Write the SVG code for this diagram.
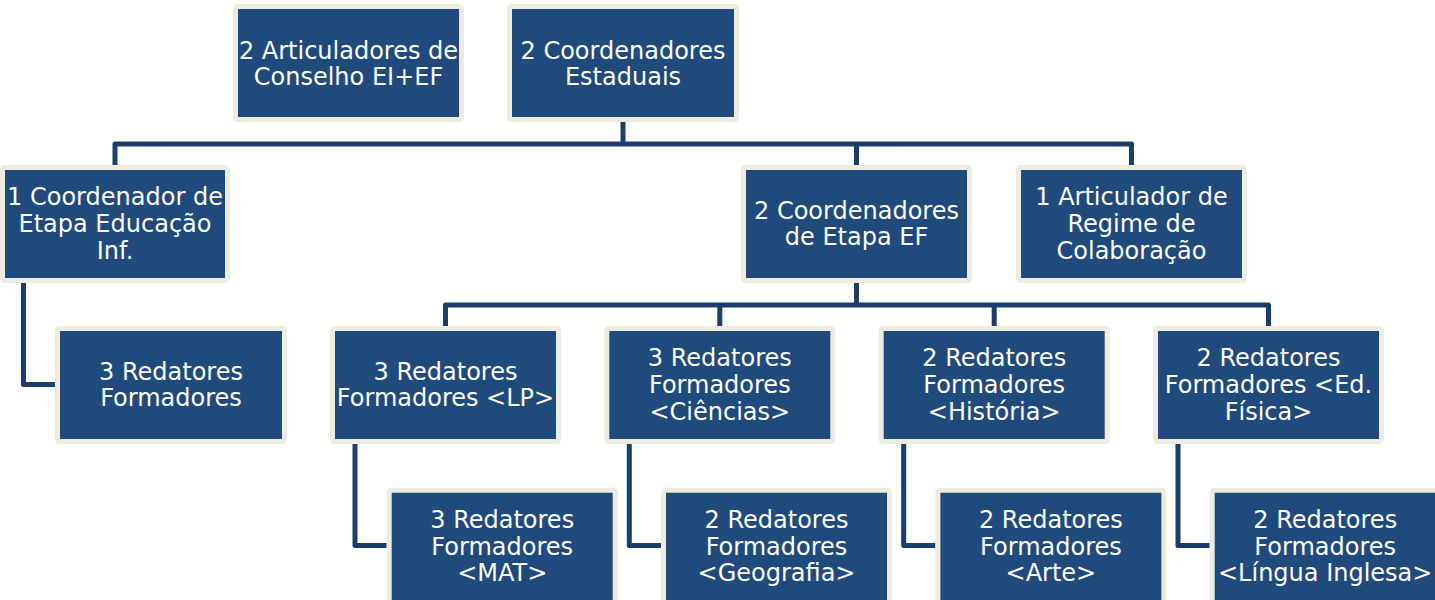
<svg xmlns="http://www.w3.org/2000/svg" width="1435" height="600" viewBox="0 0 1435 600">
<defs>
<style>
.box{fill:#214A7C;stroke:#EEECE1;stroke-width:5}
.t{font-family:"DejaVu Sans","Verdana",sans-serif;font-size:24px;fill:#FFFFFF;text-anchor:middle}
.c{fill:none;stroke:#1B3D6B;stroke-width:5;stroke-linejoin:round}
</style>
</defs>
<rect width="1435" height="600" fill="#FFFFFF"/>
<g id="connectors">
<path class="c" d="M623 122 V144"/>
<path class="c" d="M115 165 V144 H1131.5 V165"/>
<path class="c" d="M856.5 144 V165"/>
<path class="c" d="M23.5 283 V384.5 H55"/>
<path class="c" d="M856.5 283 V305"/>
<path class="c" d="M445.5 326 V305 H1268.5 V326"/>
<path class="c" d="M719.8 305 V326"/>
<path class="c" d="M994.2 305 V326"/>
<path class="c" d="M355 444 V545.5 H386.7"/>
<path class="c" d="M629.3 444 V545.5 H661"/>
<path class="c" d="M903.7 444 V545.5 H935.4"/>
<path class="c" d="M1178 444 V545.5 H1209.7"/>
</g>
<g id="articuladores">
<rect class="box" x="235.5" y="6.5" width="226" height="113" rx="2"/>
<text class="t" x="348.5" y="58.6">2 Articuladores de</text>
<text class="t" x="348.5" y="85.3">Conselho EI+EF</text>
</g>
<g id="estaduais">
<rect class="box" x="509.5" y="6.5" width="227" height="113" rx="2"/>
<text class="t" x="623" y="58.6">2 Coordenadores</text>
<text class="t" x="623" y="85.3">Estaduais</text>
</g>
<g id="coord-inf">
<rect class="box" x="2.5" y="167.5" width="225" height="113" rx="2"/>
<text class="t" x="115" y="205.3">1 Coordenador de</text>
<text class="t" x="115" y="232">Etapa Educação</text>
<text class="t" x="115" y="258.7">Inf.</text>
</g>
<g id="etapa-ef">
<rect class="box" x="743.5" y="167.5" width="226" height="113" rx="2"/>
<text class="t" x="856.5" y="218.6">2 Coordenadores</text>
<text class="t" x="856.5" y="245.3">de Etapa EF</text>
</g>
<g id="regime">
<rect class="box" x="1018.5" y="167.5" width="226" height="113" rx="2"/>
<text class="t" x="1131.5" y="205.3">1 Articulador de</text>
<text class="t" x="1131.5" y="232">Regime de</text>
<text class="t" x="1131.5" y="258.7">Colaboração</text>
</g>
<g id="redatores-inf">
<rect class="box" x="57.5" y="328.5" width="227" height="113" rx="2"/>
<text class="t" x="171" y="379.6">3 Redatores</text>
<text class="t" x="171" y="406.3">Formadores</text>
</g>
<g id="lp">
<rect class="box" x="332.5" y="328.5" width="226" height="113" rx="2"/>
<text class="t" x="445.5" y="379.6">3 Redatores</text>
<text class="t" x="445.5" y="406.3">Formadores &lt;LP&gt;</text>
</g>
<g id="ciencias">
<rect class="box" x="606.8" y="328.5" width="226" height="113" rx="2"/>
<text class="t" x="719.8" y="366.3">3 Redatores</text>
<text class="t" x="719.8" y="393">Formadores</text>
<text class="t" x="719.8" y="419.7">&lt;Ciências&gt;</text>
</g>
<g id="historia">
<rect class="box" x="881.2" y="328.5" width="226" height="113" rx="2"/>
<text class="t" x="994.2" y="366.3">2 Redatores</text>
<text class="t" x="994.2" y="393">Formadores</text>
<text class="t" x="994.2" y="419.7">&lt;História&gt;</text>
</g>
<g id="edfisica">
<rect class="box" x="1155.5" y="328.5" width="226" height="113" rx="2"/>
<text class="t" x="1268.5" y="366.3">2 Redatores</text>
<text class="t" x="1268.5" y="393">Formadores &lt;Ed.</text>
<text class="t" x="1268.5" y="419.7">Física&gt;</text>
</g>
<g id="mat">
<rect class="box" x="389.2" y="490.2" width="226" height="113" rx="2"/>
<text class="t" x="502.2" y="528">3 Redatores</text>
<text class="t" x="502.2" y="554.7">Formadores</text>
<text class="t" x="502.2" y="581.4">&lt;MAT&gt;</text>
</g>
<g id="geografia">
<rect class="box" x="663.5" y="490.2" width="226" height="113" rx="2"/>
<text class="t" x="776.5" y="528">2 Redatores</text>
<text class="t" x="776.5" y="554.7">Formadores</text>
<text class="t" x="776.5" y="581.4">&lt;Geografia&gt;</text>
</g>
<g id="arte">
<rect class="box" x="937.9" y="490.2" width="226" height="113" rx="2"/>
<text class="t" x="1050.9" y="528">2 Redatores</text>
<text class="t" x="1050.9" y="554.7">Formadores</text>
<text class="t" x="1050.9" y="581.4">&lt;Arte&gt;</text>
</g>
<g id="ingles">
<rect class="box" x="1212.2" y="490.2" width="226" height="113" rx="2"/>
<text class="t" x="1325.2" y="528">2 Redatores</text>
<text class="t" x="1325.2" y="554.7">Formadores</text>
<text class="t" x="1325.2" y="581.4">&lt;Língua Inglesa&gt;</text>
</g>
</svg>
